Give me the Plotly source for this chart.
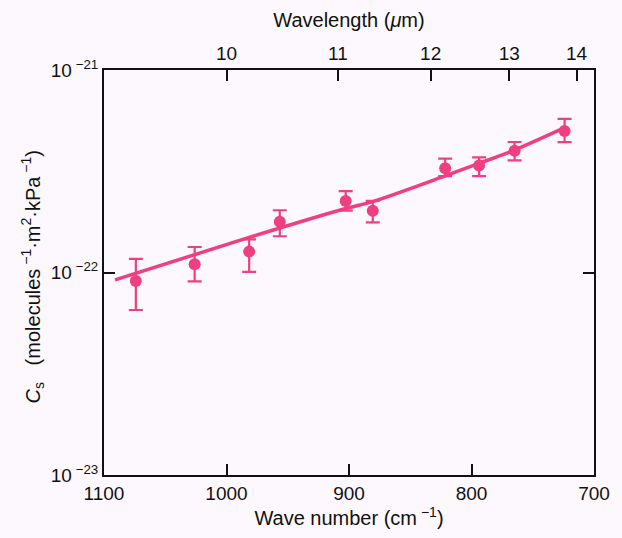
import plotly.graph_objects as go

# Data
wavenumber = [1074, 1026, 981.5, 956.5, 902.7, 880.6, 821.5, 793.8, 764.8, 724]
cs_value = [9.08e-23, 1.098e-22, 1.268e-22, 1.782e-22, 2.254e-22, 2.02e-22, 3.27e-22, 3.38e-22, 3.99e-22, 5.0e-22]
err_upper = [1.167e-22, 1.336e-22, 1.459e-22, 2.03e-22, 2.52e-22, 2.26e-22, 3.65e-22, 3.70e-22, 4.41e-22, 5.73e-22]
err_lower = [6.53e-23, 9.05e-23, 1.006e-22, 1.51e-22, 2.02e-22, 1.77e-22, 2.99e-22, 2.99e-22, 3.58e-22, 4.40e-22]

fit_wavenumber = [1091, 981.5, 902.7, 880.6, 821.5, 793.8, 764.8, 722.6]
fit_value = [9.2e-23, 1.49e-22, 2.07e-22, 2.24e-22, 3.0e-22, 3.46e-22, 4.03e-22, 5.24e-22]

wavelength_ticks = [10, 11, 12, 13, 14]
wavenumber_ticks = [1100, 1000, 900, 800, 700]
y_ticks = [1e-23, 1e-22, 1e-21]
y_ticktext = ["10<sup> −23</sup>", "10<sup> −22</sup>", "10<sup> −21</sup>"]

COLOR = "#ef3f80"
BG = "#fdf8fd"
FONT = "Liberation Sans"

err_plus = [u - v for u, v in zip(err_upper, cs_value)]
err_minus = [v - l for v, l in zip(cs_value, err_lower)]

fig = go.Figure()
fig.add_trace(go.Scatter(
    x=fit_wavenumber, y=fit_value, mode="lines",
    line=dict(color=COLOR, width=3.5, shape="spline", smoothing=0.8),
    showlegend=False, hoverinfo="skip",
))
fig.add_trace(go.Scatter(
    x=wavenumber, y=cs_value, mode="markers",
    marker=dict(color=COLOR, size=12),
    error_y=dict(type="data", symmetric=False, array=err_plus, arrayminus=err_minus,
                 color=COLOR, thickness=2.2, width=7),
    showlegend=False,
))
# invisible trace on top axis
fig.add_trace(go.Scatter(x=[1100, 700], y=[1e-22, 1e-22], xaxis="x2", mode="markers",
                         marker=dict(opacity=0), showlegend=False, hoverinfo="skip"))

fig.update_layout(
    width=622, height=538,
    margin=dict(l=104, r=22, t=70, b=63),
    paper_bgcolor=BG, plot_bgcolor=BG,
    font=dict(family=FONT, size=19, color="#111"),
    xaxis=dict(
        range=[1100, 700], tickvals=wavenumber_ticks,
        ticktext=[str(t) for t in wavenumber_ticks],
        ticks="inside", ticklen=11, tickwidth=1.8, tickcolor="#111",
        showline=True, linecolor="#111", linewidth=2, mirror=False,
        showgrid=False, zeroline=False,
        title=dict(text="Wave number (cm<sup> −1</sup>)", standoff=7,
                   font=dict(family=FONT, size=20)),
        tickfont=dict(family=FONT, size=19),
    ),
    xaxis2=dict(
        overlaying="x", side="top", range=[1100, 700],
        tickvals=[10000 / w for w in wavelength_ticks],
        ticktext=[str(w) for w in wavelength_ticks],
        ticks="inside", ticklen=11, tickwidth=1.8, tickcolor="#111",
        showline=True, linecolor="#111", linewidth=2,
        showgrid=False, zeroline=False,
        title=dict(text="Wavelength (<i>μ</i>m)", standoff=10,
                   font=dict(family=FONT, size=20)),
        tickfont=dict(family=FONT, size=19),
    ),
    yaxis=dict(
        type="log", range=[-23, -21], tickvals=y_ticks, ticktext=y_ticktext,
        ticks="inside", ticklen=11, tickwidth=1.8, tickcolor="#111",
        showline=True, linecolor="#111", linewidth=2, mirror="ticks",
        showgrid=False, zeroline=False,
        tickfont=dict(family=FONT, size=19),
    ),
    annotations=[dict(
        text="<i>C</i><sub>s</sub>   (molecules<sup> −1</sup>·m<sup>2</sup>·kPa<sup> −1</sup>)",
        xref="paper", yref="paper", x=-0.145, y=0.49,
        xanchor="center", yanchor="middle", textangle=-90, showarrow=False,
        font=dict(family=FONT, size=20, color="#111"),
    )],
)

fig.write_html("out.html")
